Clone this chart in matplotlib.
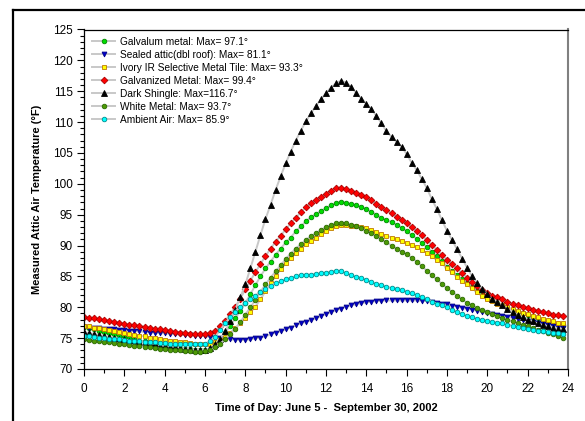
import matplotlib
matplotlib.use("Agg")
import matplotlib.pyplot as plt
from matplotlib.lines import Line2D
from matplotlib.ticker import MultipleLocator
import numpy as np

plt.rcParams['font.family'] = ['Liberation Sans', 'DejaVu Sans']

hours = [i * 0.25 for i in range(96)]

galvalum = [
    76.8, 76.6, 76.4, 76.2, 76.0, 75.8, 75.6, 75.4,
    75.2, 75.0, 74.8, 74.6, 74.5, 74.3, 74.1, 74.0,
    73.8, 73.7, 73.5, 73.4, 73.3, 73.2, 73.1, 73.0,
    73.0, 73.3, 73.8, 74.7, 75.9, 77.0, 78.2, 79.4,
    80.7, 82.1, 83.6, 85.0, 86.3, 87.4, 88.5, 89.5,
    90.5, 91.3, 92.3, 93.1, 93.9, 94.6, 95.1, 95.6,
    96.1, 96.5, 96.9, 97.1, 96.9, 96.7, 96.5, 96.3,
    95.9, 95.5, 95.0, 94.5, 94.1, 93.8, 93.4, 92.9,
    92.3, 91.7, 91.1, 90.4, 89.8, 89.0, 88.3, 87.5,
    86.6, 85.9, 85.2, 84.5, 83.9, 83.3, 82.7, 82.1,
    81.5, 81.1, 80.7, 80.3, 79.9, 79.6, 79.3, 79.0,
    78.7, 78.4, 78.2, 77.9, 77.7, 77.5, 77.3, 77.1]

sealed_attic = [
    76.8, 76.7, 76.7, 76.6, 76.5, 76.5, 76.4, 76.3,
    76.3, 76.2, 76.1, 76.1, 76.0, 75.9, 75.9, 75.8,
    75.8, 75.7, 75.6, 75.6, 75.5, 75.5, 75.4, 75.4,
    75.3, 75.2, 75.1, 75.0, 74.9, 74.8, 74.75, 74.7,
    74.7, 74.8, 75.0, 75.1, 75.3, 75.6, 75.9, 76.1,
    76.4, 76.7, 77.1, 77.4, 77.6, 77.9, 78.2, 78.55,
    78.9, 79.2, 79.5, 79.8, 80.1, 80.3, 80.5, 80.65,
    80.8, 80.9, 81.0, 81.05, 81.1, 81.1, 81.1, 81.1,
    81.1, 81.1, 81.1, 81.05, 81.0, 80.9, 80.75, 80.6,
    80.45, 80.25, 80.1, 79.9, 79.75, 79.6, 79.4, 79.25,
    79.1, 78.95, 78.75, 78.6, 78.45, 78.3, 78.1, 77.9,
    77.75, 77.6, 77.4, 77.25, 77.1, 76.95, 76.8, 76.6]

ivory_tile = [
    77.0, 76.9, 76.7, 76.6, 76.4, 76.3, 76.1, 76.0,
    75.8, 75.7, 75.5, 75.4, 75.3, 75.1, 75.0, 74.9,
    74.7, 74.6, 74.5, 74.4, 74.3, 74.2, 74.1, 74.1,
    74.0, 74.1, 74.3, 74.7, 75.2, 75.9, 76.6, 77.4,
    78.3, 79.2, 80.1, 81.3, 82.6, 83.9, 85.1, 86.2,
    87.2, 88.0, 88.8, 89.5, 90.2, 90.8, 91.3, 91.9,
    92.4, 92.8, 93.1, 93.3, 93.3, 93.2, 93.1, 92.95,
    92.8, 92.5, 92.2, 91.85, 91.6, 91.3, 91.0, 90.7,
    90.35, 90.1, 89.7, 89.3, 88.8, 88.3, 87.6, 87.1,
    86.3, 85.65, 84.9, 84.3, 83.7, 83.05, 82.4, 81.85,
    81.4, 81.0, 80.6, 80.35, 80.0, 79.65, 79.4, 79.1,
    78.9, 78.6, 78.4, 78.1, 77.9, 77.7, 77.5, 77.4]

galvanized = [
    78.4, 78.3, 78.2, 78.1, 77.9, 77.8, 77.6, 77.5,
    77.3, 77.2, 77.1, 76.9, 76.8, 76.7, 76.5, 76.4,
    76.3, 76.2, 76.0, 75.9, 75.8, 75.7, 75.7, 75.6,
    75.6, 75.8, 76.2, 76.9, 77.8, 78.9, 80.1, 81.4,
    82.9, 84.3, 85.7, 87.0, 88.3, 89.5, 90.6, 91.6,
    92.6, 93.6, 94.5, 95.4, 96.2, 96.9, 97.4, 97.9,
    98.4, 98.9, 99.3, 99.4, 99.1, 98.8, 98.5, 98.2,
    97.8, 97.4, 96.8, 96.2, 95.7, 95.2, 94.7, 94.1,
    93.6, 93.0, 92.4, 91.7, 90.9, 90.1, 89.3, 88.5,
    87.7, 87.0, 86.3, 85.5, 84.8, 84.1, 83.4, 82.8,
    82.3, 81.9, 81.6, 81.3, 80.9, 80.6, 80.3, 80.1,
    79.9, 79.6, 79.4, 79.2, 79.0, 78.8, 78.7, 78.6]

dark_shingle = [
    76.0, 75.8, 75.7, 75.5, 75.4, 75.2, 75.1, 74.9,
    74.8, 74.6, 74.5, 74.4, 74.2, 74.1, 74.0, 73.8,
    73.7, 73.6, 73.5, 73.4, 73.3, 73.2, 73.1, 73.1,
    73.1, 73.4, 74.0, 74.9, 76.1, 77.7, 79.6, 81.6,
    83.7, 86.3, 89.0, 91.7, 94.3, 96.6, 99.0, 101.2,
    103.3, 105.2, 107.0, 108.6, 110.1, 111.4, 112.6, 113.7,
    114.7, 115.6, 116.3, 116.7, 116.4, 115.7, 114.7, 113.8,
    113.0, 112.1, 111.0, 109.8, 108.5, 107.6, 106.8, 106.0,
    104.8, 103.4, 102.2, 100.8, 99.3, 97.5, 95.9, 94.1,
    92.4, 90.9, 89.4, 87.9, 86.4, 85.0, 84.0, 83.0,
    82.1, 81.3, 80.8, 80.3, 79.7, 79.3, 78.8, 78.4,
    78.0, 77.7, 77.4, 77.1, 76.9, 76.7, 76.5, 76.4]

white_metal = [
    74.8, 74.7, 74.6, 74.5, 74.4, 74.3, 74.2, 74.1,
    74.0, 73.9, 73.8, 73.7, 73.6, 73.5, 73.4, 73.3,
    73.2, 73.1, 73.0, 73.0, 72.9, 72.9, 72.8, 72.8,
    72.9, 73.1, 73.5, 74.1, 74.8, 75.6, 76.5, 77.6,
    78.8, 80.0, 81.2, 82.5, 83.7, 84.8, 85.8, 86.8,
    87.8, 88.7, 89.5, 90.2, 90.9, 91.5, 92.0, 92.5,
    93.0, 93.3, 93.6, 93.7, 93.6, 93.4, 93.1, 92.8,
    92.4, 92.0, 91.5, 91.0, 90.5, 90.0, 89.5, 89.0,
    88.6, 88.0, 87.4, 86.7, 85.9, 85.2, 84.5, 83.8,
    83.1, 82.5, 81.9, 81.3, 80.7, 80.3, 79.9, 79.5,
    79.2, 78.9, 78.6, 78.3, 78.0, 77.7, 77.4, 77.1,
    76.9, 76.6, 76.3, 76.1, 75.8, 75.6, 75.3, 75.1]

ambient = [
    75.4, 75.3, 75.2, 75.1, 75.0, 74.9, 74.8, 74.8,
    74.7, 74.6, 74.5, 74.5, 74.4, 74.3, 74.3, 74.2,
    74.2, 74.1, 74.1, 74.0, 74.0, 74.0, 74.0, 74.0,
    74.1, 74.5, 75.2, 76.3, 77.4, 78.4, 79.3, 80.1,
    80.7, 81.3, 81.9, 82.5, 83.0, 83.5, 83.9, 84.2,
    84.5, 84.8, 85.0, 85.2, 85.3, 85.3, 85.4, 85.5,
    85.6, 85.75, 85.9, 85.8, 85.5, 85.2, 84.9, 84.8,
    84.4, 84.1, 83.8, 83.6, 83.3, 83.15, 83.0, 82.8,
    82.5, 82.25, 81.95, 81.7, 81.3, 80.9, 80.6, 80.35,
    80.0, 79.6, 79.2, 78.9, 78.6, 78.35, 78.1, 77.9,
    77.8, 77.6, 77.5, 77.4, 77.2, 77.0, 76.8, 76.6,
    76.4, 76.3, 76.2, 76.1, 76.0, 75.9, 75.8, 75.7]

labels = [
    "Galvalum metal: Max= 97.1°",
    "Sealed attic(dbl roof): Max= 81.1°",
    "Ivory IR Selective Metal Tile: Max= 93.3°",
    "Galvanized Metal: Max= 99.4°",
    "Dark Shingle: Max=116.7°",
    "White Metal: Max= 93.7°",
    "Ambient Air: Max= 85.9°",
]
series = [galvalum, sealed_attic, ivory_tile, galvanized, dark_shingle, white_metal, ambient]
markers = ['o', 'v', 's', 'D', '^', 'o', 'o']
faces = ['#00dd00', '#0000cc', '#ffff00', '#ff0000', '#000000', '#4e9a06', '#00ffff']
edges = ['#008800', '#000088', '#c07800', '#aa0000', '#000000', '#2a6a00', '#008c8c']
msizes = [3.3, 3.5, 3.1, 3.4, 3.7, 3.3, 3.3]

fig = plt.figure(figsize=(5.85, 4.21), dpi=100)
ax = fig.add_axes([84 / 585, 1 - 369 / 421, (568 - 84) / 585, (369 - 29.5) / 421])

for vals, lab, m, fc, ec, ms in zip(series, labels, markers, faces, edges, msizes):
    ax.plot(hours, vals, color='#c8c8c8', lw=1.4, marker=m, markersize=ms,
            markerfacecolor=fc, markeredgecolor=ec, markeredgewidth=0.6, label=lab)

ax.set_xlim(0, 24)
ax.set_ylim(70, 125)
ax.xaxis.set_major_locator(MultipleLocator(2))
ax.xaxis.set_minor_locator(MultipleLocator(1))
ax.yaxis.set_major_locator(MultipleLocator(5))
ax.yaxis.set_minor_locator(MultipleLocator(1))
ax.tick_params(which='both', direction='out', top=False, right=False, labelsize=8.5, pad=3)
ax.tick_params(which='major', length=5, width=0.8)
ax.tick_params(which='minor', length=3, width=0.8)
ax.tick_params(axis='x', pad=5)

for s in ['left', 'bottom', 'top']:
    ax.spines[s].set_linewidth(0.9)
    ax.spines[s].set_color('black')
ax.spines['right'].set_linewidth(1.5)
ax.spines['right'].set_color('#808080')

ax.set_xlabel("Time of Day: June 5 -  September 30, 2002", fontsize=8, fontweight='bold', labelpad=6)
ax.set_ylabel("Measured Attic Air Temperature (°F)", fontsize=8, fontweight='bold', labelpad=8)

leg = ax.legend(loc='upper left', bbox_to_anchor=(0.004, 0.997), frameon=False, fontsize=7.3,
                handlelength=2.3, handletextpad=0.5, labelspacing=0.3, borderaxespad=0.2)

fig.add_artist(Line2D([12.5 / 585, 12.5 / 585], [0, 1 - 10 / 421], transform=fig.transFigure,
                      color='black', lw=1.6))
fig.add_artist(Line2D([12.5 / 585, 1.0], [1 - 10 / 421, 1 - 10 / 421], transform=fig.transFigure,
                      color='black', lw=1.6))

fig.savefig("out.png", dpi=100)
